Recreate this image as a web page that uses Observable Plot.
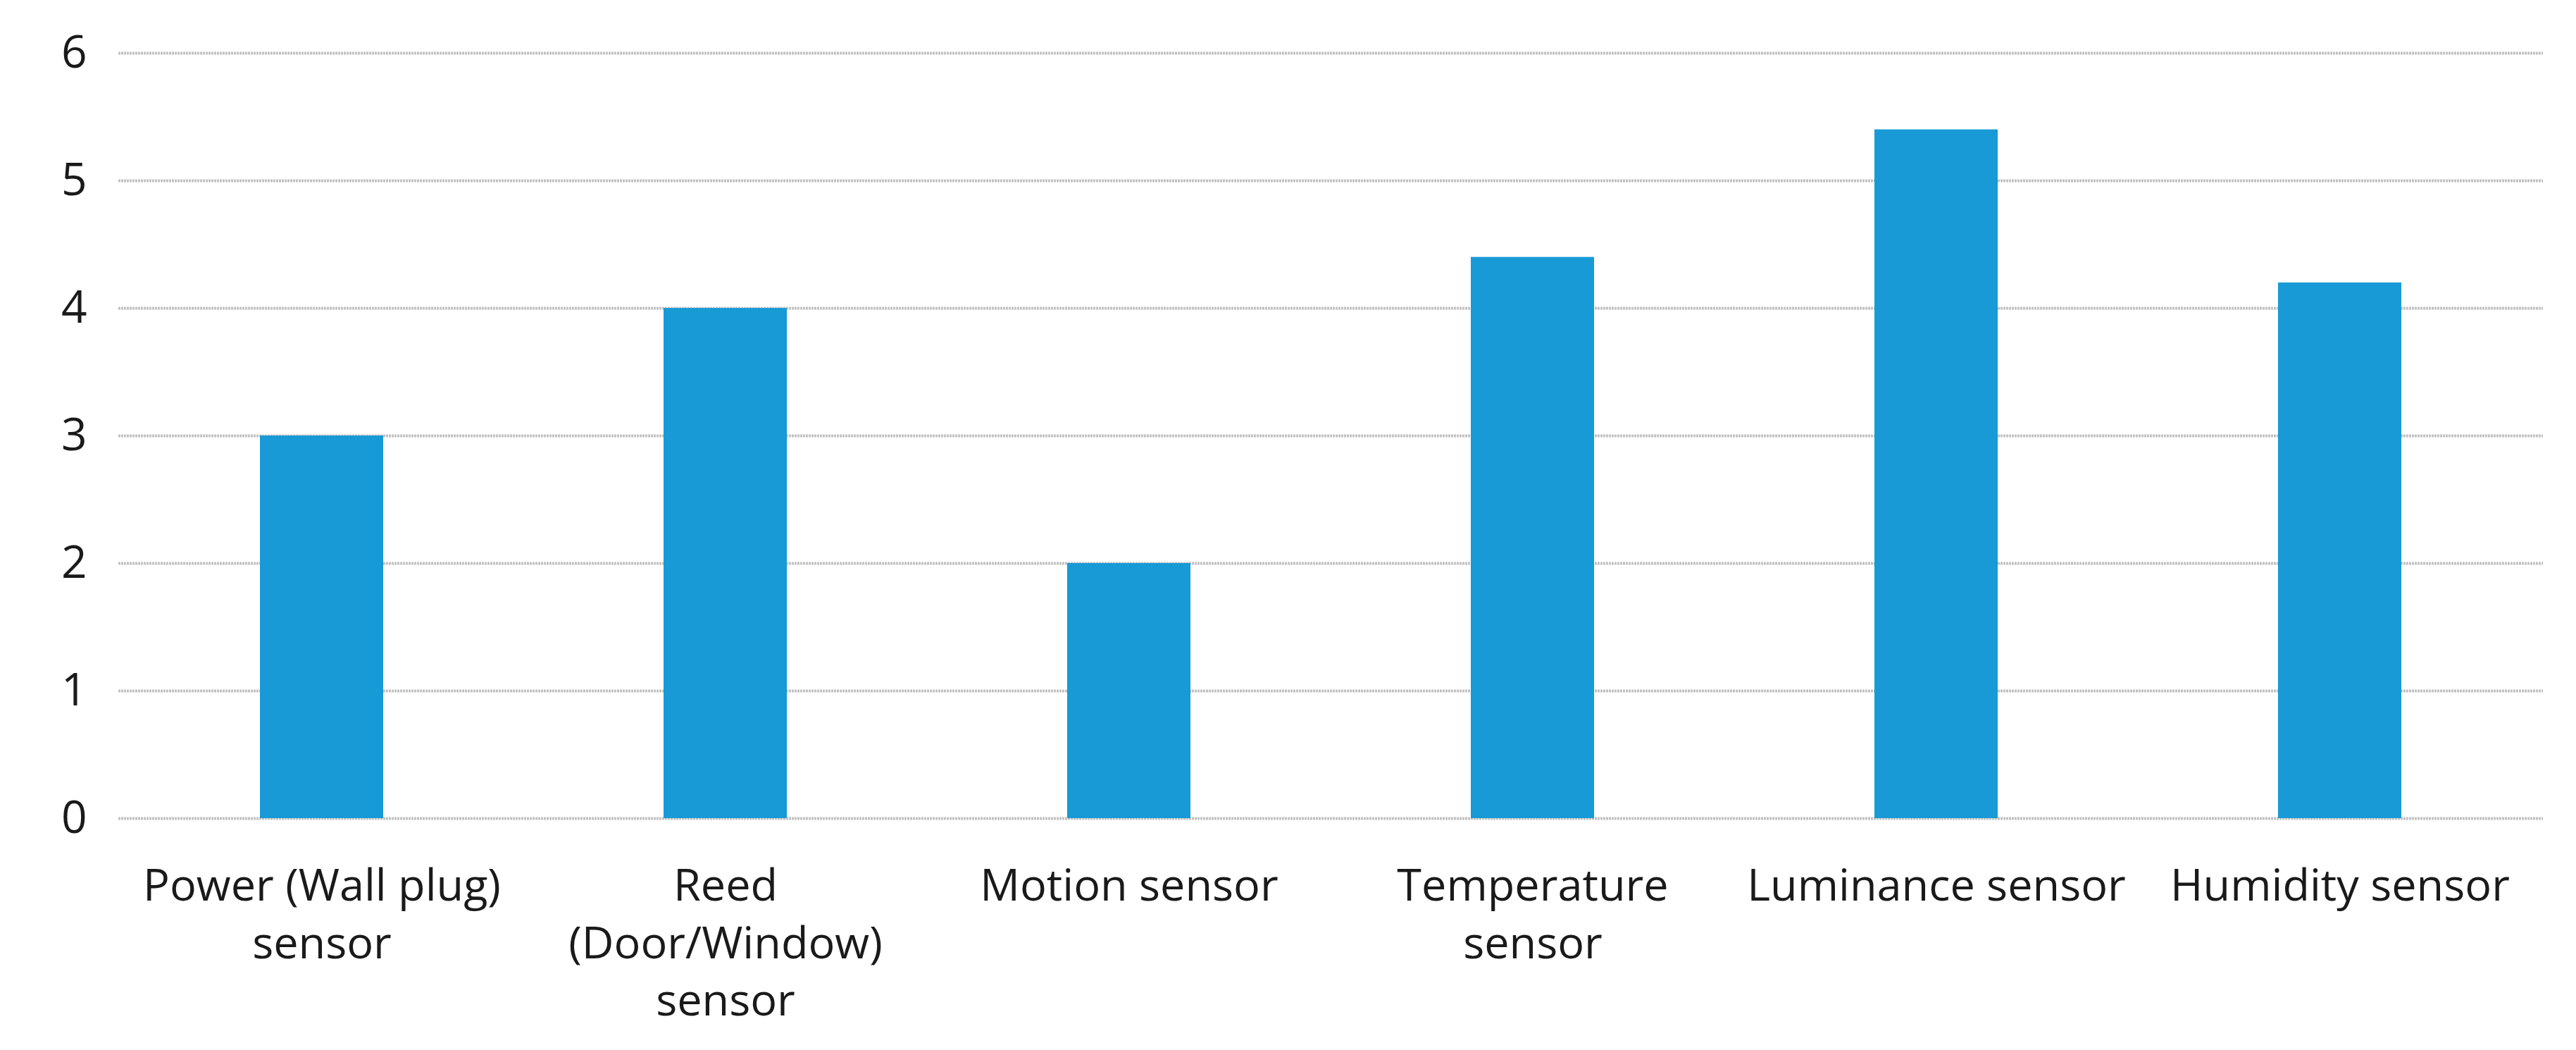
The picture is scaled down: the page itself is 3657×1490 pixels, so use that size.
<!DOCTYPE html>
<html>
<head>
<meta charset="utf-8">
<script src="https://cdn.jsdelivr.net/npm/d3@7"></script>
<script src="https://cdn.jsdelivr.net/npm/@observablehq/plot@0.6"></script>
<style>
  html, body { margin: 0; padding: 0; background: #ffffff; }
  #chart svg { display: block; }
</style>
</head>
<body>
<div id="chart"></div>
<script>
const categories = [
  "Power (Wall plug) sensor",
  "Reed (Door/Window) sensor",
  "Motion sensor",
  "Temperature sensor",
  "Luminance sensor",
  "Humidity sensor"
];
const tickLabels = [
  "Power (Wall plug)\nsensor",
  "Reed\n(Door/Window)\nsensor",
  "Motion sensor",
  "Temperature\nsensor",
  "Luminance sensor",
  "Humidity sensor"
];
const values = [3, 4, 2, 4.4, 5.4, 4.2];
const yTicks = [0, 1, 2, 3, 4, 5, 6];

const data = categories.map((c, i) => ({category: c, value: values[i]}));
const labelOf = new Map(categories.map((c, i) => [c, tickLabels[i]]));

const chart = Plot.plot({
  width: 3657,
  height: 1490,
  marginTop: 75,
  marginBottom: 329,
  marginLeft: 168,
  marginRight: 47,
  style: {
    fontFamily: "'Open Sans', sans-serif",
    fontSize: "63px",
    color: "#1a1a1a",
    background: "#ffffff"
  },
  x: {domain: categories, paddingInner: 0.695, paddingOuter: 0.3475, label: null},
  y: {domain: [0, 6], label: null},
  marks: [
    Plot.ruleY(yTicks, {stroke: "#c2c2c2", strokeWidth: 4, strokeDasharray: "3,1"}),
    Plot.barY(data, {x: "category", y: "value", fill: "#189ad6"}),
    Plot.axisY({
      ticks: yTicks,
      tickSize: 0,
      tickPadding: 45,
      fontSize: 64,
      fill: "#1a1a1a",
      label: null,
      tickFormat: d => String(d)
    }),
    Plot.axisX({
      tickSize: 0,
      tickPadding: 58,
      fontSize: 63,
      fill: "#1a1a1a",
      lineHeight: 1.3,
      label: null,
      tickFormat: d => labelOf.get(d)
    })
  ]
});
document.getElementById("chart").appendChild(chart);
</script>
</body>
</html>
